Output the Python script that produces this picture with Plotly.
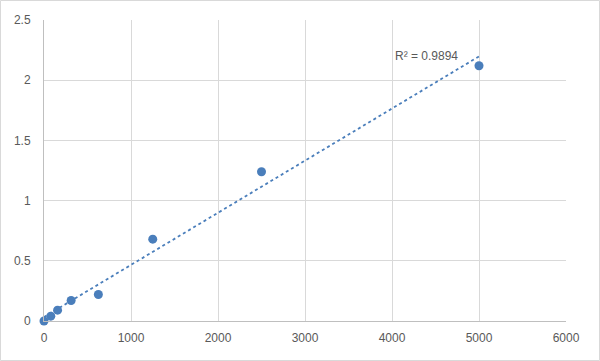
import numpy as np
import plotly.graph_objects as go

concentration = [0, 78, 156, 312, 625, 1250, 2500, 5000]
od_values = [0.0, 0.04, 0.09, 0.17, 0.22, 0.68, 1.24, 2.12]
x_ticks = [0, 1000, 2000, 3000, 4000, 5000, 6000]
y_ticks = [0, 0.5, 1, 1.5, 2, 2.5]
r2_label = "R² = 0.9894"

blue = "#4a7ebb"
grid = "#d9d9d9"
txt = "#595959"

xs = np.array(concentration, dtype=float)
ys = np.array(od_values, dtype=float)
slope, intercept = np.polyfit(xs, ys, 1)
tx = np.array([xs.min(), xs.max()])
ty = slope * tx + intercept

fig = go.Figure()
fig.add_trace(go.Scatter(x=tx, y=ty, mode="lines",
                         line=dict(color=blue, width=1.8, dash="dot"),
                         hoverinfo="skip", showlegend=False))
fig.add_trace(go.Scatter(x=concentration, y=od_values, mode="markers",
                         marker=dict(color=blue, size=9), cliponaxis=False,
                         showlegend=False))

fig.add_annotation(x=4010, y=2.2, xref="x", yref="y", text=r2_label,
                   showarrow=False, xanchor="left", yanchor="middle",
                   font=dict(family="Liberation Sans", size=12, color=txt))

W, H = 600, 361
ml, mr, mt, mb = 44, 34, 20, 40
pw, ph = W - ml - mr, H - mt - mb
fig.add_shape(type="rect", xref="paper", yref="paper",
              x0=-(ml - 0.5) / pw, x1=(W - ml - 0.5) / pw,
              y0=-(mb - 0.5) / ph, y1=(ph + mt - 0.5) / ph,
              line=dict(color=grid, width=1), layer="below")

fig.update_layout(
    width=W, height=H,
    margin=dict(l=ml, r=mr, t=mt, b=mb),
    paper_bgcolor="white", plot_bgcolor="white",
    font=dict(family="Liberation Sans", size=12, color=txt),
    xaxis=dict(range=[0, 6000], tickvals=x_ticks, showgrid=True,
               gridcolor=grid, gridwidth=1, zeroline=False,
               showline=True, linecolor="#bfbfbf", linewidth=1,
               ticks="", ticklabelstandoff=6,
               tickfont=dict(size=12, color=txt)),
    yaxis=dict(range=[0, 2.5], tickvals=y_ticks, showgrid=True,
               gridcolor=grid, gridwidth=1, zeroline=False,
               showline=True, linecolor="#bfbfbf", linewidth=1,
               ticks="", ticklabelstandoff=10,
               tickfont=dict(size=12, color=txt)),
)

fig.write_html("out.html")
